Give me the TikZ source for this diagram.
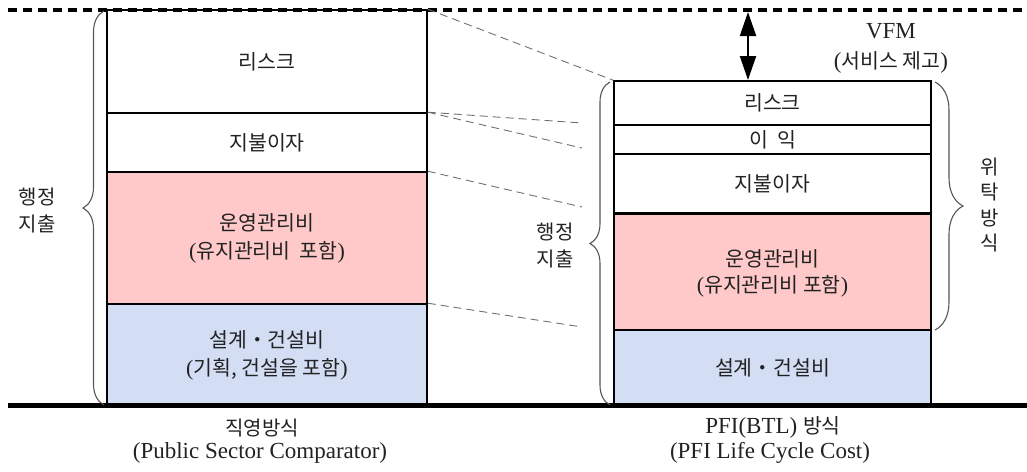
\documentclass[tikz,border=0pt]{standalone}
\usepackage{fontspec}
\setmainfont{Liberation Serif}
\newfontfamily\kr{Noto Sans CJK KR}
\usetikzlibrary{arrows.meta,decorations.pathreplacing}
\definecolor{pinkfill}{HTML}{FFC9C9}
\definecolor{bluefill}{HTML}{D3DEF5}
\definecolor{txt}{HTML}{222222}
\definecolor{bracegray}{HTML}{555555}
\definecolor{dashgray}{HTML}{707070}
\newcommand\Lpar{{\rmfamily\fontsize{22}{28}\selectfont(}}
\newcommand\Rpar{{\rmfamily\fontsize{22}{28}\selectfont)}}
\newcommand\Kor[1]{{\kr\fontsize{20.5}{28}\selectfont #1}}
\begin{document}
\begin{tikzpicture}[x=1pt,y=-1pt,
  cell/.style={draw=black, line width=1.6pt, inner sep=0pt, align=center, text=txt,
               font=\kr\fontsize{20.5}{28}\selectfont},
  lab/.style={inner sep=0pt, align=center, text=txt, font=\kr\fontsize{20}{27}\selectfont},
  latin/.style={inner sep=0pt, align=center, text=txt, font=\rmfamily\fontsize{23}{28}\selectfont},
  conn/.style={draw=dashgray, line width=0.9pt, dash pattern=on 8pt off 5pt},
  topline/.style={draw=black, line width=4pt, dash pattern=on 9pt off 6pt},
  baseline/.style={draw=black, line width=4.5pt},
  bracestyle/.style={draw=bracegray, line width=1.1pt, decorate},
  vfm/.style={draw=black, line width=2pt, {Triangle[length=24pt,width=16pt]}-{Triangle[length=24pt,width=16pt]}}
]
\useasboundingbox (0,0) rectangle (1027,471);

% left column
\node[cell, minimum width=320pt, minimum height=103pt] (l1) at (267,61.5) {리스크};
\node[cell, minimum width=320pt, minimum height=59pt] (l2) at (267,142.5) {지불이자};
\node[cell, fill=pinkfill, minimum width=320pt, minimum height=132pt] (l3) at (267,238) {운영관리비\\[0pt]\Lpar 유지관리비\ \ 포함\Rpar};
\node[cell, fill=bluefill, minimum width=320pt, minimum height=102pt] (l4) at (267,355) {설계・건설비\\\Lpar 기획,\ 건설을 포함\Rpar};

% right column
\node[cell, minimum width=317pt, minimum height=44pt] (r1) at (772.5,103) {리스크};
\node[cell, minimum width=317pt, minimum height=29pt] (r2) at (772.5,139.5) {이\ \ 익};
\node[cell, minimum width=317pt, minimum height=59pt] (r3) at (772.5,183.5) {지불이자};
\node[cell, fill=pinkfill, minimum width=317pt, minimum height=117pt, font=\kr\fontsize{20.5}{26}\selectfont] (r4) at (772.5,273) {운영관리비\\\Lpar 유지관리비 포함\Rpar};
\node[cell, fill=bluefill, minimum width=317pt, minimum height=76pt] (r5) at (772.5,368) {설계・건설비};

% top and bottom lines
\coordinate (tl) at (8,10);
\coordinate (tr) at (1027,10);
\draw[topline] (tl) -- (tr);
\coordinate (bl) at (8,405.5);
\coordinate (br) at (1027,405.5);
\draw[baseline] (bl) -- (br);

% dashed connectors
\coordinate (e2) at (582,123);
\coordinate (e3) at (582,148);
\coordinate (e4) at (582,207);
\coordinate (e5) at (582,327);
\draw[conn] (l1.north east) -- (r1.north west);
\draw[conn] (l2.north east) -- (e2);
\draw[conn] (l2.north east) -- (e3);
\draw[conn] (l3.north east) -- (e4);
\draw[conn] (l4.north east) -- (e5);

% VFM arrow
\coordinate (va) at (748,12);
\coordinate (vb) at (748,80);
\draw[vfm] (va) -- (vb);
\node[latin] (vfmt) at (891,31) {VFM};
\node[latin] (vfms) at (891,62) {(\Kor{서비스 제고})};

% braces
\coordinate (b1a) at (104,405);
\coordinate (b1b) at (104,11);
\draw[bracestyle, decoration={brace, amplitude=21pt}] (b1a) -- (b1b);
\coordinate (b2a) at (610,405);
\coordinate (b2b) at (610,82);
\draw[bracestyle, decoration={brace, amplitude=20pt}] (b2a) -- (b2b);
\coordinate (b3a) at (935,82);
\coordinate (b3b) at (935,330);
\draw[bracestyle, decoration={brace, amplitude=28pt}] (b3a) -- (b3b);

% side labels
\node[lab] (hj1) at (37,211) {행정\\지출};
\node[lab] (hj2) at (555,246) {행정\\지출};
\node[lab, font=\kr\fontsize{20}{25.3}\selectfont] (wt) at (990,205) {위\\탁\\방\\식};

% bottom labels
\node[lab] (c1) at (262,428) {직영방식};
\node[latin] (c2) at (260,453) {(Public Sector Comparator)};
\node[latin] (c3) at (773,427) {PFI(BTL) \Kor{방식}};
\node[latin] (c4) at (770,453) {(PFI Life Cycle Cost)};
\end{tikzpicture}
\end{document}
